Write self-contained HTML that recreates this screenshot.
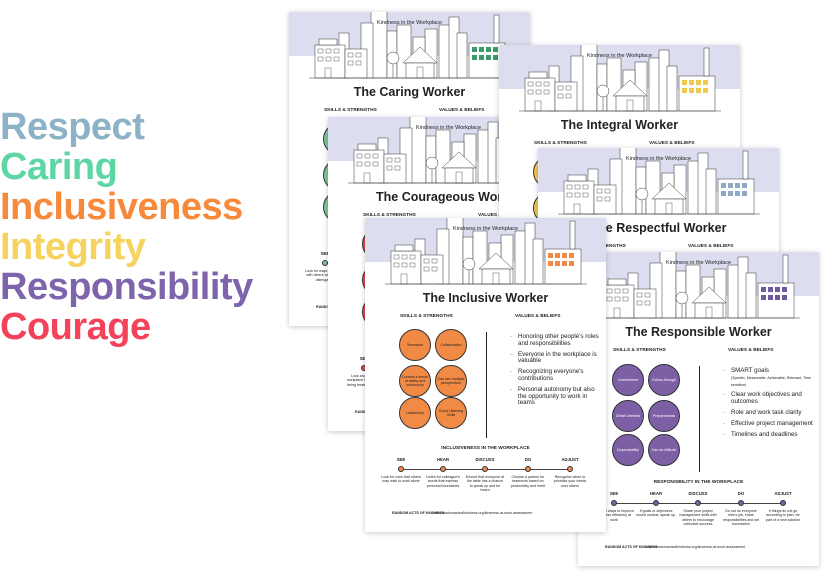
<!DOCTYPE html>
<html><head><meta charset="utf-8"><style>
body{margin:0;width:829px;height:576px;background:#fff;position:relative;overflow:hidden;font-family:"Liberation Sans",sans-serif}
.w{position:absolute;left:0;font-size:38px;font-weight:bold;letter-spacing:-0.5px;line-height:40px}
.pg{position:absolute;width:241px;height:314px;background:#fff;box-shadow:0 1px 5px rgba(0,0,0,.22);overflow:hidden;color:#222}
.pg div{position:absolute}
.band{left:0;top:0;width:100%;height:44px;background:#dcdef0}
.kw{top:8px;left:0;width:100%;text-align:center;font-size:5.5px}
.ttl{top:73px;left:0;width:100%;text-align:center;font-size:12.5px;font-weight:bold;white-space:nowrap}
.hd{top:96px;font-size:4.8px;font-weight:bold}
.c{width:32px;height:32px;border-radius:50%;border:0.8px solid #333;box-sizing:border-box;font-size:3.6px;display:flex;align-items:center;justify-content:center;text-align:center;line-height:4px}
.dv{left:121px;top:114px;width:1px;height:106px;background:#222}
.bl{left:145px;top:116px;width:92px;font-size:6.2px;line-height:6.8px}
.bl p{margin:0 0 4px 8px;position:relative}
.bl p:before{content:"·";position:absolute;left:-8px}
.sec{top:228px;left:0;width:100%;text-align:center;font-size:4.8px;font-weight:bold}
.tl{top:251px;left:36px;width:170px;height:0.6px;background:#444}
.lb{top:239px;width:40px;text-align:center;font-size:4.3px;font-weight:bold}
.dt{top:248px;width:6px;height:6px;border-radius:50%;border:0.5px solid #333;box-sizing:border-box}
.ds{top:257px;width:40px;text-align:center;font-size:3.6px;line-height:4.3px}
.ft{top:293px;left:27px;font-size:3.6px;font-weight:bold}
.url{top:293px;left:68px;font-size:3.6px}
</style></head><body>
<svg width="0" height="0" style="position:absolute"><defs>
<symbol id="sky" viewBox="0 0 241 80">
<g transform="translate(0,-9)">
<g fill="#fff" stroke="#333" stroke-width="0.5">
<rect x="150" y="22" width="12" height="53"/><rect x="160" y="14" width="10" height="61"/><rect x="168" y="30" width="10" height="45"/>
<rect x="82" y="8" width="16" height="67"/><rect x="72" y="20" width="12" height="55"/><rect x="98" y="28" width="10" height="47"/>
<rect x="108" y="22" width="14" height="53"/><rect x="136" y="26" width="12" height="49"/><rect x="124" y="34" width="12" height="41"/>
<rect x="50" y="30" width="10" height="45"/>
<rect x="26" y="42" width="30" height="33"/><rect x="30" y="36" width="18" height="6"/>
<rect x="56" y="46" width="22" height="29"/>
<path d="M114 60 L131 44 L148 60 Z"/><rect x="117" y="60" width="28" height="15"/>
<circle cx="104" cy="55" r="6"/><line x1="104" y1="61" x2="104" y2="75"/>
<rect x="180" y="40" width="36" height="35"/><rect x="205" y="12" width="5" height="28"/>
<line x1="20" y1="75" x2="222" y2="75"/>
</g>
<g fill="none" stroke="#333" stroke-width="0.4">
<rect x="29" y="46" width="5" height="4"/><rect x="37" y="46" width="5" height="4"/><rect x="45" y="46" width="5" height="4"/>
<rect x="29" y="54" width="5" height="4"/><rect x="37" y="54" width="5" height="4"/><rect x="45" y="54" width="5" height="4"/>
<rect x="59" y="50" width="5" height="4"/><rect x="67" y="50" width="5" height="4"/><rect x="59" y="58" width="5" height="4"/><rect x="67" y="58" width="5" height="4"/>
<rect x="36" y="65" width="6" height="10"/><rect x="128" y="64" width="6" height="11"/>
</g></g>
</symbol></defs></svg>

<div class="w" style="top:107px;color:#8db2c5">Respect</div>
<div class="w" style="top:147px;color:#5dd6a3">Caring</div>
<div class="w" style="top:187px;color:#f7893b">Inclusiveness</div>
<div class="w" style="top:227px;color:#f5d35c">Integrity</div>
<div class="w" style="top:267px;color:#7e64ad">Responsibility</div>
<div class="w" style="top:307px;color:#f4425a">Courage</div>

<div class="pg" style="left:289px;top:12px">
<div class="band"></div><svg style="position:absolute;left:0;top:0" width="241" height="80"><use href="#sky"/><g fill="#3a9a6a"><rect x="183" y="35" width="5" height="5"/><rect x="190" y="35" width="5" height="5"/><rect x="197" y="35" width="5" height="5"/><rect x="204" y="35" width="5" height="5"/><rect x="183" y="43" width="5" height="5"/><rect x="190" y="43" width="5" height="5"/><rect x="197" y="43" width="5" height="5"/><rect x="204" y="43" width="5" height="5"/></g></svg>
<div class="kw">Kindness in the Workplace</div><div class="ttl">The Caring Worker</div>
<div class="hd" style="left:35px">SKILLS &amp; STRENGTHS</div><div class="hd" style="left:150px">VALUES &amp; BELIEFS</div>
<div class="c" style="left:34px;top:111px;background:#7cc79a"></div><div class="c" style="left:70px;top:111px;background:#7cc79a"></div>
<div class="c" style="left:34px;top:147px;background:#7cc79a"></div><div class="c" style="left:70px;top:147px;background:#7cc79a"></div>
<div class="c" style="left:34px;top:179px;background:#7cc79a"></div><div class="c" style="left:70px;top:179px;background:#7cc79a"></div>
<div class="sec">CARING IN THE WORKPLACE</div><div class="tl"></div>
<div class="lb" style="left:16px">SEE</div><div class="dt" style="left:33px;background:#7cc79a"></div>
<div class="ds" style="left:16px">Look for ways to connect with others who may be disengaged</div>
<div class="ft">RANDOM ACTS OF KINDNESS</div>
</div>

<div class="pg" style="left:328px;top:117px">
<div class="band"></div><svg style="position:absolute;left:0;top:0" width="241" height="80"><use href="#sky"/></svg>
<div class="kw">Kindness in the Workplace</div><div class="ttl">The Courageous Worker</div>
<div class="hd" style="left:35px">SKILLS &amp; STRENGTHS</div><div class="hd" style="left:150px">VALUES &amp; BELIEFS</div>
<div class="c" style="left:34px;top:111px;background:#e8484f"></div><div class="c" style="left:70px;top:111px;background:#e8484f"></div>
<div class="c" style="left:34px;top:147px;background:#e8484f"></div><div class="c" style="left:70px;top:147px;background:#e8484f"></div>
<div class="c" style="left:34px;top:179px;background:#e8484f"></div><div class="c" style="left:70px;top:179px;background:#e8484f"></div>
<div class="sec">COURAGE IN THE WORKPLACE</div><div class="tl"></div>
<div class="lb" style="left:16px">SEE</div><div class="dt" style="left:33px;background:#e8484f"></div>
<div class="ds" style="left:16px">Look around the workplace for anyone being treated unfairly</div>
<div class="ft">RANDOM ACTS OF KINDNESS</div>
</div>

<div class="pg" style="left:499px;top:45px">
<div class="band"></div><svg style="position:absolute;left:0;top:0" width="241" height="80"><use href="#sky"/><g fill="#f2c94c"><rect x="183" y="35" width="5" height="5"/><rect x="190" y="35" width="5" height="5"/><rect x="197" y="35" width="5" height="5"/><rect x="204" y="35" width="5" height="5"/><rect x="183" y="43" width="5" height="5"/><rect x="190" y="43" width="5" height="5"/><rect x="197" y="43" width="5" height="5"/><rect x="204" y="43" width="5" height="5"/></g></svg>
<div class="kw">Kindness in the Workplace</div><div class="ttl">The Integral Worker</div>
<div class="hd" style="left:35px">SKILLS &amp; STRENGTHS</div><div class="hd" style="left:150px">VALUES &amp; BELIEFS</div>
<div class="c" style="left:34px;top:111px;background:#f2c94c"></div><div class="c" style="left:70px;top:111px;background:#f2c94c"></div>
<div class="c" style="left:34px;top:147px;background:#f2c94c"></div><div class="c" style="left:70px;top:147px;background:#f2c94c"></div>
</div>

<div class="pg" style="left:538px;top:148px">
<div class="band"></div><svg style="position:absolute;left:0;top:0" width="241" height="80"><use href="#sky"/><g fill="#8fa9c4"><rect x="183" y="35" width="5" height="5"/><rect x="190" y="35" width="5" height="5"/><rect x="197" y="35" width="5" height="5"/><rect x="204" y="35" width="5" height="5"/><rect x="183" y="43" width="5" height="5"/><rect x="190" y="43" width="5" height="5"/><rect x="197" y="43" width="5" height="5"/><rect x="204" y="43" width="5" height="5"/></g></svg>
<div class="kw">Kindness in the Workplace</div><div class="ttl">The Respectful Worker</div>
<div class="hd" style="left:35px">SKILLS &amp; STRENGTHS</div><div class="hd" style="left:150px">VALUES &amp; BELIEFS</div>
</div>

<div class="pg" style="left:578px;top:252px">
<div class="band"></div><svg style="position:absolute;left:0;top:0" width="241" height="80"><use href="#sky"/><g fill="#6e5a9e"><rect x="183" y="35" width="5" height="5"/><rect x="190" y="35" width="5" height="5"/><rect x="197" y="35" width="5" height="5"/><rect x="204" y="35" width="5" height="5"/><rect x="183" y="43" width="5" height="5"/><rect x="190" y="43" width="5" height="5"/><rect x="197" y="43" width="5" height="5"/><rect x="204" y="43" width="5" height="5"/></g></svg>
<div class="kw">Kindness in the Workplace</div><div class="ttl">The Responsible Worker</div>
<div class="hd" style="left:35px">SKILLS &amp; STRENGTHS</div><div class="hd" style="left:150px">VALUES &amp; BELIEFS</div>
<div class="c" style="left:34px;top:112px;background:#7d5fa6;color:#fff">Commitment</div><div class="c" style="left:70px;top:112px;background:#7d5fa6;color:#fff">Follow-through</div>
<div class="c" style="left:34px;top:148px;background:#7d5fa6;color:#fff">Detail Oriented</div><div class="c" style="left:70px;top:148px;background:#7d5fa6;color:#fff">Preparedness</div>
<div class="c" style="left:34px;top:182px;background:#7d5fa6;color:#fff">Dependability</div><div class="c" style="left:70px;top:182px;background:#7d5fa6;color:#fff">Can-do Attitude</div>
<div class="dv"></div>
<div class="bl"><p>SMART goals<br><span style="font-size:3.6px;line-height:4px">(Specific, Measurable, Achievable, Relevant, Time sensitive)</span></p><p>Clear work objectives and outcomes</p><p>Role and work task clarity</p><p>Effective project management</p><p>Timelines and deadlines</p></div>
<div class="sec">RESPONSIBILITY IN THE WORKPLACE</div><div class="tl"></div>
<div class="lb" style="left:16px">SEE</div><div class="lb" style="left:58px">HEAR</div><div class="lb" style="left:100px">DISCUSS</div><div class="lb" style="left:143px">DO</div><div class="lb" style="left:185px">ADJUST</div>
<div class="dt" style="left:33px;background:#7d5fa6"></div><div class="dt" style="left:75px;background:#7d5fa6"></div><div class="dt" style="left:117px;background:#7d5fa6"></div><div class="dt" style="left:160px;background:#7d5fa6"></div><div class="dt" style="left:202px;background:#7d5fa6"></div>
<div class="ds" style="left:16px">Look for ways to improve kindness efficiency at work</div><div class="ds" style="left:58px">If goals or objectives sound unclear, speak up.</div><div class="ds" style="left:100px">Share your project management skills with others to encourage collective success</div><div class="ds" style="left:143px">Do not do everyone else's job, share responsibilities and set boundaries</div><div class="ds" style="left:185px">If things do not go according to plan, be part of a new solution</div>
<div class="ft">RANDOM ACTS OF KINDNESS</div><div class="url">www.randomactsofkindness.org/kindness-at-work-assessment</div>
</div>

<div class="pg" style="left:365px;top:218px">
<div class="band"></div><svg style="position:absolute;left:0;top:0" width="241" height="80"><use href="#sky"/><g fill="#f08a45"><rect x="183" y="35" width="5" height="5"/><rect x="190" y="35" width="5" height="5"/><rect x="197" y="35" width="5" height="5"/><rect x="204" y="35" width="5" height="5"/><rect x="183" y="43" width="5" height="5"/><rect x="190" y="43" width="5" height="5"/><rect x="197" y="43" width="5" height="5"/><rect x="204" y="43" width="5" height="5"/></g></svg>
<div class="kw">Kindness in the Workplace</div><div class="ttl">The Inclusive Worker</div>
<div class="hd" style="left:35px">SKILLS &amp; STRENGTHS</div><div class="hd" style="left:150px">VALUES &amp; BELIEFS</div>
<div class="c" style="left:34px;top:111px;background:#f08a45">Teamwork</div><div class="c" style="left:70px;top:111px;background:#f08a45">Collaboration</div>
<div class="c" style="left:34px;top:147px;background:#f08a45">Creates a sense of safety and community</div><div class="c" style="left:70px;top:147px;background:#f08a45">Can see multiple perspectives</div>
<div class="c" style="left:34px;top:179px;background:#f08a45">Leadership</div><div class="c" style="left:70px;top:179px;background:#f08a45">Good Listening Skills</div>
<div class="dv"></div>
<div class="bl"><p>Honoring other people's roles and responsibilities</p><p>Everyone in the workplace is valuable</p><p>Recognizing everyone's contributions</p><p>Personal autonomy but also the opportunity to work in teams</p></div>
<div class="sec">INCLUSIVENESS IN THE WORKPLACE</div><div class="tl"></div>
<div class="lb" style="left:16px">SEE</div><div class="lb" style="left:58px">HEAR</div><div class="lb" style="left:100px">DISCUSS</div><div class="lb" style="left:143px">DO</div><div class="lb" style="left:185px">ADJUST</div>
<div class="dt" style="left:33px;background:#f08a45"></div><div class="dt" style="left:75px;background:#f08a45"></div><div class="dt" style="left:117px;background:#f08a45"></div><div class="dt" style="left:160px;background:#f08a45"></div><div class="dt" style="left:202px;background:#f08a45"></div>
<div class="ds" style="left:16px">Look for cues that others may wish to work alone</div><div class="ds" style="left:58px">Listen for colleague's words that express personal boundaries</div><div class="ds" style="left:100px">Ensure that everyone at the table has a chance to speak up and be heard</div><div class="ds" style="left:143px">Choose a partner for teamwork based on productivity and merit</div><div class="ds" style="left:185px">Recognize when to prioritize your needs over others</div>
<div class="ft">RANDOM ACTS OF KINDNESS</div><div class="url">www.randomactsofkindness.org/kindness-at-work-assessment</div>
</div>
</body></html>
